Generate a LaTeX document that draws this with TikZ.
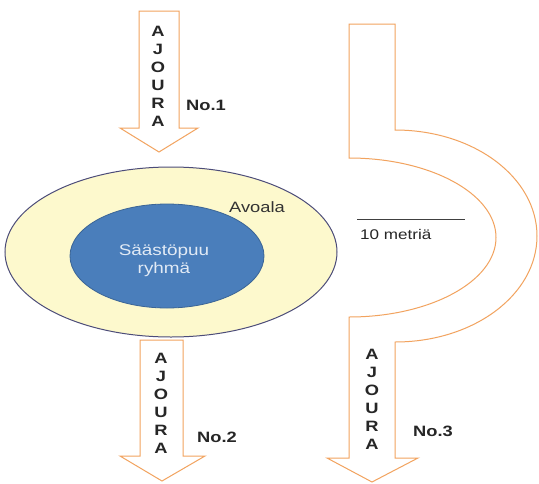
\documentclass[tikz,border=0pt]{standalone}
\usepackage{fontspec}
\setmainfont[FakeStretch=1.22]{Liberation Sans}
\begin{document}
\begin{tikzpicture}[x=1pt,y=-1pt,
  roadarrow/.style={draw=orangeline,line width=1pt,fill=white,line join=miter},
  letter/.style={font=\fontsize{15}{15}\selectfont\bfseries,text=black!85,inner sep=0pt},
  numlabel/.style={font=\fontsize{15}{15}\selectfont\bfseries,text=black!85,inner sep=0pt},
  plainlabel/.style={font=\fontsize{15}{15}\selectfont,text=black!80,inner sep=0pt}]
\definecolor{orangeline}{RGB}{242,163,95}
\definecolor{paleyellow}{RGB}{253,249,205}
\definecolor{groupblue}{RGB}{74,126,187}
\useasboundingbox (0,0) rectangle (539,483);
\fill[white] (0,0) rectangle (539,483);
% clearing and tree group
\draw[fill=paleyellow,draw=black!75!blue!70,line width=1pt] (171,252) ellipse [x radius=166pt, y radius=85pt];
\draw[fill=groupblue,draw=groupblue!80!black,line width=0.8pt] (167,256) ellipse [x radius=97pt, y radius=52pt];
\node[font=\fontsize{15.5}{18}\selectfont,text={rgb,255:red,225;green,234;blue,245},align=center,inner sep=0pt] (group) at (164,261) {Säästöpuu\\ryhmä};
\node[plainlabel] (avoala) at (257,207) {Avoala};
% road 1
\draw[roadarrow] (139,11) -- (179,11) -- (179,128) -- (198,128) -- (159,152) -- (120,128) -- (139,128) -- cycle;
% road 2
\draw[roadarrow] (140,340) -- (183,340) -- (183,456) -- (205,456) -- (162,481) -- (120,456) -- (140,456) -- cycle;
% road 3
\draw[roadarrow] (349,24) -- (395,24) -- (395,130)
  .. controls (474,130) and (537,177.5) .. (537,236)
  .. controls (537,294.5) and (474,342) .. (395,342)
  -- (395,458) -- (418,458) -- (372,482) -- (327,458) -- (349,458) -- (349,317)
  .. controls (430,317) and (496,281.4) .. (496,237.5)
  .. controls (496,193.6) and (430,158) .. (349,158) -- cycle;
% letters
\foreach \l [count=\i from 0] in {A,J,O,U,R,A} {
  \node[letter] (a1-\i) at (158,31+18*\i) {\l};
  \node[letter] (a2-\i) at (161,358+18*\i) {\l};
  \node[letter] (a3-\i) at (372,354+18*\i) {\l};
}
\node[numlabel] (no1) at (206,105) {No.1};
\node[numlabel] (no2) at (217,437) {No.2};
\node[numlabel] (no3) at (433,431) {No.3};
% scale bar
\coordinate (s1) at (357,219);
\coordinate (s2) at (465,219);
\draw[black!75,line width=0.8pt] (s1) -- (s2);
\node[font=\fontsize{14}{14}\selectfont,text=black!85,anchor=west,inner sep=0pt] (scale) at (360,234) {10 metriä};
\end{tikzpicture}
\end{document}
